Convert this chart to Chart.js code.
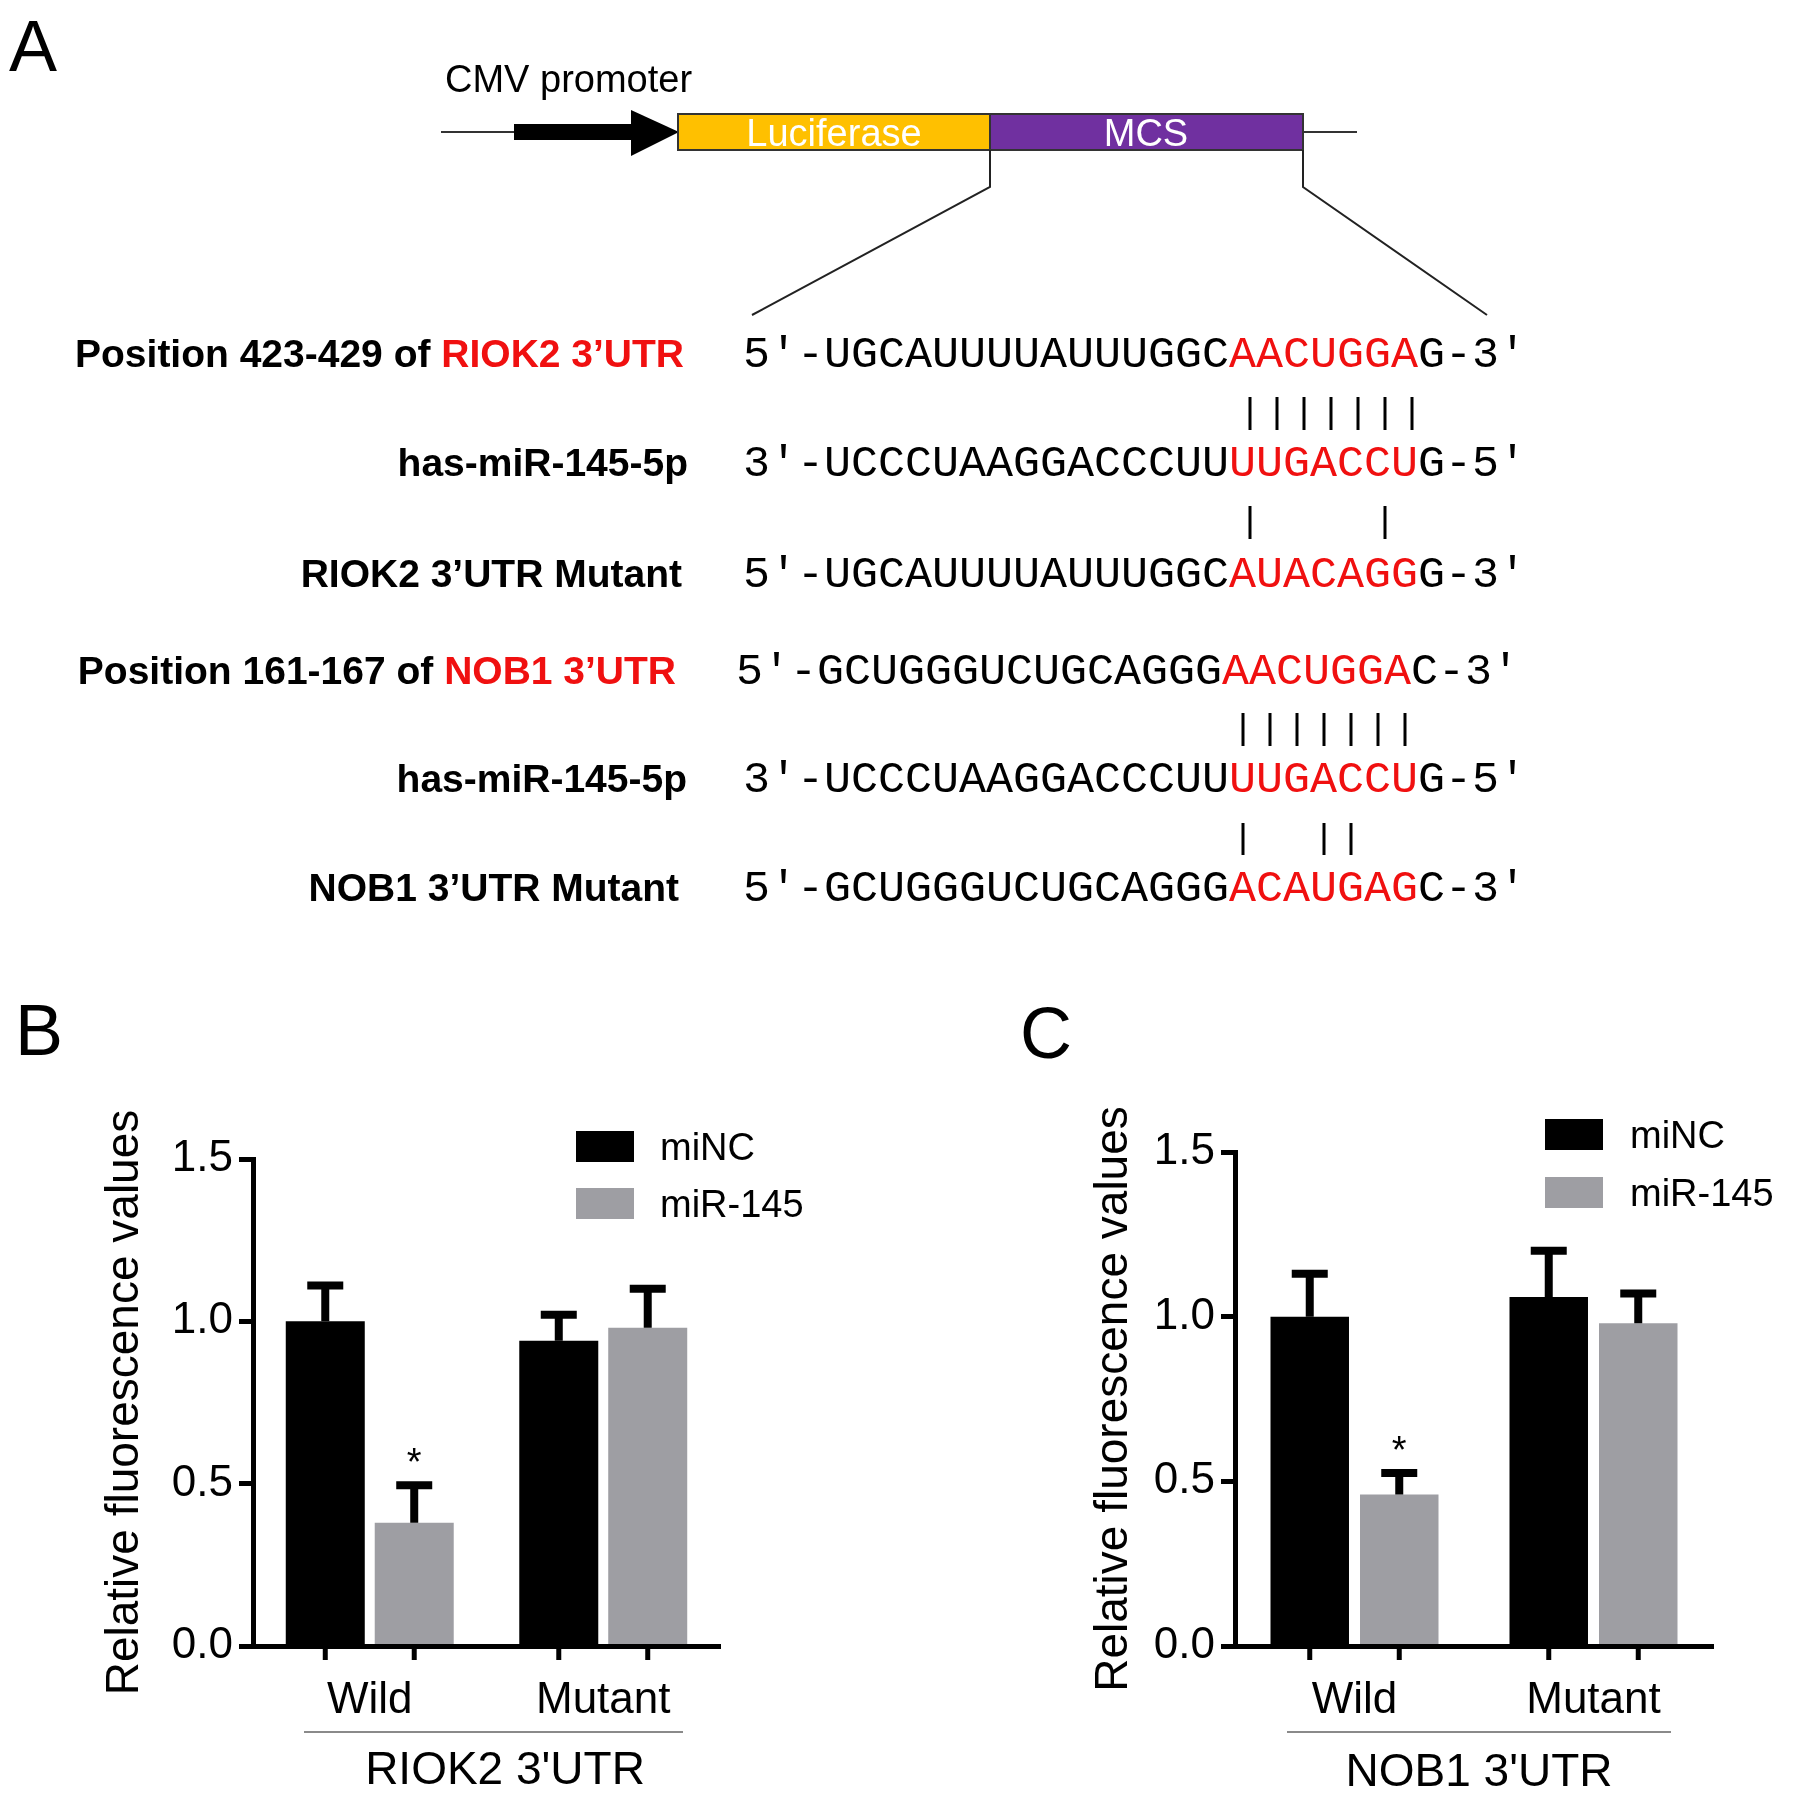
<!DOCTYPE html>
<html lang="en">
<head>
<meta charset="UTF-8">
<title>miR-145 targets RIOK2 and NOB1 3'UTR</title>
<script src="https://cdn.jsdelivr.net/npm/chart.js"></script>
<style>
  body { margin: 0; background: #fff; }
  #page { position: relative; width: 1795px; height: 1799px; overflow: hidden; }
  canvas { position: absolute; }
  #overlay { position: absolute; left: 0; top: 0; pointer-events: none; }
  .sans { font-family: Arial, "Liberation Sans", sans-serif; }
  .lab { font-family: Arial, "Liberation Sans", sans-serif; font-weight: bold; font-size: 39px; }
  .seq { font-family: "Courier New", "Liberation Mono", monospace; font-size: 45px; }
</style>
</head>
<body>
<div id="page">
  <canvas id="chartB" width="900" height="799" style="left:0;top:1000px"></canvas>
  <canvas id="chartC" width="815" height="799" style="left:980px;top:1000px"></canvas>
  <svg id="overlay" width="1795" height="1799"></svg>
</div>

<script>
// ---- data: bar charts (B = RIOK2 3'UTR, C = NOB1 3'UTR) ----
const groups = ['Wild', 'Mutant'];
const seriesNames = ['miNC', 'miR-145'];
const yTicks = [0, 0.5, 1.0, 1.5];

const riok2MiNC = [1.00, 0.94];
const riok2MiNCErr = [0.11, 0.08];
const riok2Mir = [0.38, 0.98];
const riok2MirErr = [0.115, 0.12];
const riok2Stars = ['*', ''];

const nob1MiNC = [1.00, 1.06];
const nob1MiNCErr = [0.13, 0.14];
const nob1Mir = [0.46, 0.98];
const nob1MirErr = [0.065, 0.09];
const nob1Stars = ['*', ''];

// ---- data: sequence alignment (panel A) ----
const rowLabels = [
  [['Position 423-429 of ', '#000'], ['RIOK2 3\u2019UTR', '#f01010']],
  [['has-miR-145-5p', '#000']],
  [['RIOK2 3\u2019UTR Mutant', '#000']],
  [['Position 161-167 of ', '#000'], ['NOB1 3\u2019UTR', '#f01010']],
  [['has-miR-145-5p', '#000']],
  [['NOB1 3\u2019UTR Mutant', '#000']]
];
const seqHead = ["5'-", "3'-", "5'-", "5'-", "3'-", "5'-"];
const seqBody = ['UGCAUUUUAUUUGGC', 'UCCCUAAGGACCCUU', 'UGCAUUUUAUUUGGC',
                 'GCUGGGUCUGCAGGG', 'UCCCUAAGGACCCUU', 'GCUGGGUCUGCAGGG'];
const seqSite = ['AACUGGA', 'UUGACCU', 'AUACAGG', 'AACUGGA', 'UUGACCU', 'ACAUGAG'];
const seqTail = ["G-3'", "G-5'", "G-3'", "C-3'", "G-5'", "C-3'"];
const pairIdx = [[0, 1, 2, 3, 4, 5, 6], [0, 5], [0, 1, 2, 3, 4, 5, 6], [0, 3, 4]];

// layout for panel A
const rowBase = [367, 476, 587, 684, 792, 901];
const labelRight = [684, 688, 682, 676, 687, 679];
const seqLeft = [743, 743, 743, 736, 743, 743];
const pairX0 = [1250, 1250, 1243, 1243];
const pairY = [[397, 430], [506, 539], [713, 746], [823, 855]];
const CH = 27;

const RED = '#f01010';
const GRAY = '#9e9ea3';
const FONT = 'Arial, "Liberation Sans", sans-serif';

// ---- SVG drawing (panel A and annotations) ----
const NS = 'http://www.w3.org/2000/svg';
const svg = document.getElementById('overlay');
function add(parent, tag, attrs, text) {
  const e = document.createElementNS(NS, tag);
  for (const k in attrs) e.setAttribute(k, attrs[k]);
  if (text != null) e.textContent = text;
  parent.appendChild(e);
  return e;
}

// panel letters
add(svg, 'text', {x: 9, y: 71, class: 'sans', 'font-size': 72}, 'A');
add(svg, 'text', {x: 15, y: 1055, class: 'sans', 'font-size': 72}, 'B');
add(svg, 'text', {x: 1020, y: 1058, class: 'sans', 'font-size': 72}, 'C');

// construct
add(svg, 'text', {x: 445, y: 92, class: 'sans', 'font-size': 38}, 'CMV promoter');
add(svg, 'line', {x1: 441, y1: 132, x2: 514, y2: 132, stroke: '#333', 'stroke-width': 2});
add(svg, 'rect', {x: 514, y: 124, width: 120, height: 16, fill: '#000'});
add(svg, 'polygon', {points: '631,110 679,132 631,156', fill: '#000'});
add(svg, 'rect', {x: 678, y: 114, width: 312, height: 36, fill: '#ffc000', stroke: '#333', 'stroke-width': 2});
add(svg, 'rect', {x: 990, y: 114, width: 313, height: 36, fill: '#7030a0', stroke: '#333', 'stroke-width': 2});
add(svg, 'line', {x1: 1303, y1: 132, x2: 1357, y2: 132, stroke: '#333', 'stroke-width': 2});
add(svg, 'text', {x: 834, y: 146, class: 'sans', 'font-size': 38, fill: '#fff', 'text-anchor': 'middle'}, 'Luciferase');
add(svg, 'text', {x: 1146, y: 146, class: 'sans', 'font-size': 38, fill: '#fff', 'text-anchor': 'middle'}, 'MCS');
add(svg, 'polyline', {points: '990,150 990,187 752,315', fill: 'none', stroke: '#222', 'stroke-width': 2});
add(svg, 'polyline', {points: '1303,150 1303,187 1487,315', fill: 'none', stroke: '#222', 'stroke-width': 2});

// alignment rows
rowLabels.forEach((parts, i) => {
  const t = add(svg, 'text', {x: labelRight[i], y: rowBase[i], class: 'lab', 'text-anchor': 'end'});
  parts.forEach(([s, c]) => add(t, 'tspan', {fill: c}, s));
  const q = add(svg, 'text', {x: seqLeft[i], y: rowBase[i], class: 'seq', textLength: CH * 29, lengthAdjust: 'spacing'});
  add(q, 'tspan', {}, seqHead[i] + seqBody[i]);
  add(q, 'tspan', {fill: RED}, seqSite[i]);
  add(q, 'tspan', {}, seqTail[i]);
});
pairIdx.forEach((idx, k) => idx.forEach(i => {
  const x = pairX0[k] + i * CH;
  add(svg, 'line', {x1: x, x2: x, y1: pairY[k][0], y2: pairY[k][1], stroke: '#000', 'stroke-width': 3});
}));

// legends, group lines and group titles for B and C
function legend(x, y0, y1, tx) {
  add(svg, 'rect', {x: x, y: y0, width: 58, height: 31, fill: '#000'});
  add(svg, 'rect', {x: x, y: y1, width: 58, height: 31, fill: GRAY});
  add(svg, 'text', {x: tx, y: y0 + 29, class: 'sans', 'font-size': 38}, seriesNames[0]);
  add(svg, 'text', {x: tx, y: y1 + 29, class: 'sans', 'font-size': 38}, seriesNames[1]);
}
legend(576, 1131, 1188, 660);
legend(1545, 1119, 1177, 1630);
add(svg, 'line', {x1: 304, x2: 683, y1: 1732, y2: 1732, stroke: '#8a8a8a', 'stroke-width': 2});
add(svg, 'line', {x1: 1287, x2: 1671, y1: 1732, y2: 1732, stroke: '#8a8a8a', 'stroke-width': 2});
add(svg, 'text', {x: 505, y: 1784, class: 'sans', 'font-size': 46, 'text-anchor': 'middle'}, "RIOK2 3'UTR");
add(svg, 'text', {x: 1479, y: 1786, class: 'sans', 'font-size': 46, 'text-anchor': 'middle'}, "NOB1 3'UTR");

// ---- Chart.js bar charts ----
const errorBarPlugin = {
  id: 'errorBars',
  afterDatasetsDraw(chart) {
    const ctx = chart.ctx;
    const ys = chart.scales.y, xs = chart.scales.x;
    chart.data.datasets.forEach((ds, i) => {
      chart.getDatasetMeta(i).data.forEach((bar, j) => {
        const top = ys.getPixelForValue(ds.data[j] + ds.errors[j]);
        ctx.save();
        ctx.strokeStyle = '#000';
        ctx.lineWidth = 8;
        ctx.beginPath();
        ctx.moveTo(bar.x, bar.y);
        ctx.lineTo(bar.x, top);
        ctx.moveTo(bar.x - 18, top);
        ctx.lineTo(bar.x + 18, top);
        ctx.stroke();
        // x tick under each bar
        ctx.lineWidth = 5;
        ctx.beginPath();
        ctx.moveTo(bar.x, xs.top);
        ctx.lineTo(bar.x, xs.top + 14);
        ctx.stroke();
        if (ds.stars && ds.stars[j]) {
          ctx.fillStyle = '#000';
          ctx.font = '38px ' + FONT;
          ctx.textAlign = 'center';
          ctx.textBaseline = 'alphabetic';
          ctx.fillText(ds.stars[j], bar.x, top - 10);
        }
        ctx.restore();
      });
    });
  }
};

function barChart(id, ctrl, ctrlErr, mir, mirErr, stars, g) {
  return new Chart(document.getElementById(id), {
    type: 'bar',
    data: {
      labels: groups,
      datasets: [
        {label: seriesNames[0], data: ctrl, errors: ctrlErr, backgroundColor: '#000',
         categoryPercentage: g.cat, barPercentage: g.bar},
        {label: seriesNames[1], data: mir, errors: mirErr, stars: stars, backgroundColor: GRAY,
         categoryPercentage: g.cat, barPercentage: g.bar}
      ]
    },
    options: {
      responsive: false,
      animation: false,
      layout: {padding: {top: g.top, right: g.right, bottom: 0, left: 0}},
      plugins: {legend: {display: false}, tooltip: {enabled: false}},
      scales: {
        x: {
          grid: {display: false, drawTicks: false},
          border: {display: true, color: '#000', width: 5, z: 1},
          ticks: {color: '#000', font: {family: FONT, size: 44}, padding: 28, autoSkip: false, maxRotation: 0},
          afterFit: s => { s.height = g.xh; }
        },
        y: {
          min: 0,
          max: 1.5,
          afterBuildTicks: s => { s.ticks = yTicks.map(v => ({value: v})); },
          grid: {drawOnChartArea: false, drawTicks: true, tickLength: 14, tickWidth: 5, tickColor: '#000'},
          border: {display: true, color: '#000', width: 5, z: 1},
          ticks: {color: '#000', font: {family: FONT, size: 44}, padding: 6,
                  callback: v => v.toFixed(1)},
          title: {display: true, text: 'Relative fluorescence values', color: '#000',
                  font: {family: FONT, size: 46}, padding: {top: g.tpad, bottom: 0}},
          afterFit: s => { s.width = g.yw; }
        }
      }
    },
    plugins: [errorBarPlugin]
  });
}

barChart('chartB', riok2MiNC, riok2MiNCErr, riok2Mir, riok2MirErr, riok2Stars,
  {cat: 0.762, bar: 0.888, top: 159, right: 180, xh: 153, yw: 253, tpad: 98});
barChart('chartC', nob1MiNC, nob1MiNCErr, nob1Mir, nob1MirErr, nob1Stars,
  {cat: 0.749, bar: 0.877, top: 152, right: 82, xh: 153, yw: 255, tpad: 107});
</script>
</body>
</html>
